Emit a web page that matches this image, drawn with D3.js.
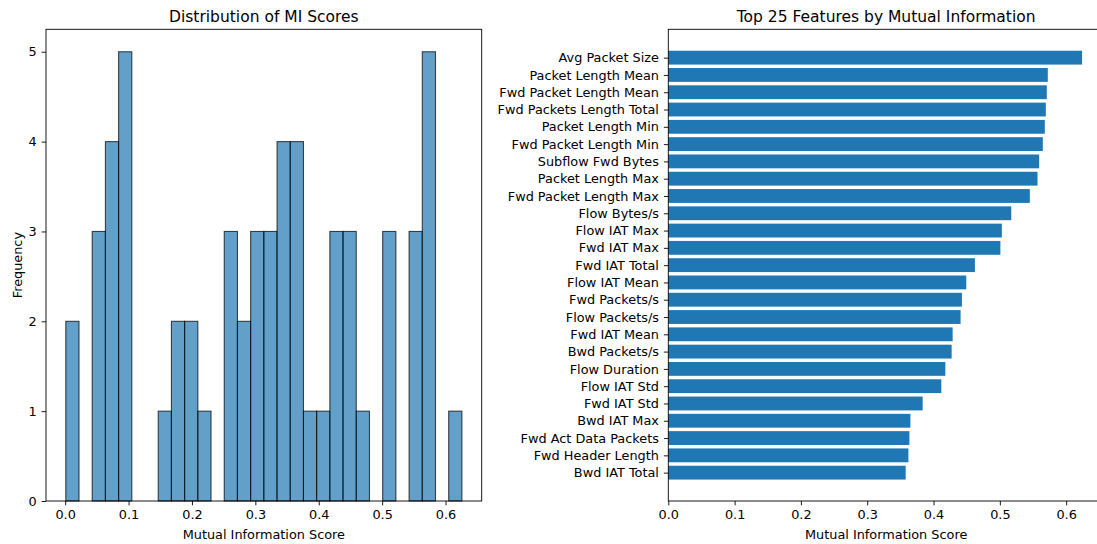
<!DOCTYPE html>
<html><head><meta charset="utf-8">
<script src="https://cdn.jsdelivr.net/npm/d3@7"></script>
<style>
html,body{margin:0;padding:0;background:#fff;}
svg{display:block;font-family:"DejaVu Sans",sans-serif;}
</style></head>
<body>
<svg id="chart" width="1097" height="544"></svg>
<script>
// ---- Data ----
// Histogram (30 bins) of MI scores
const histBinStart = 0.001;
const histBinEnd = 0.6258;
const histCounts = [2,0,3,4,5,0,0,1,2,2,1,0,3,2,3,3,4,4,1,1,3,3,1,0,3,0,3,5,0,1];
const histYTicks = [0,1,2,3,4,5];
const histXTicks = [0.0,0.1,0.2,0.3,0.4,0.5,0.6];

// Top 25 features
const features = [
  "Avg Packet Size","Packet Length Mean","Fwd Packet Length Mean","Fwd Packets Length Total",
  "Packet Length Min","Fwd Packet Length Min","Subflow Fwd Bytes","Packet Length Max",
  "Fwd Packet Length Max","Flow Bytes/s","Flow IAT Max","Fwd IAT Max","Fwd IAT Total",
  "Flow IAT Mean","Fwd Packets/s","Flow Packets/s","Fwd IAT Mean","Bwd Packets/s",
  "Flow Duration","Flow IAT Std","Fwd IAT Std","Bwd IAT Max","Fwd Act Data Packets",
  "Fwd Header Length","Bwd IAT Total"
];
const miScores = [
  0.6240,0.5723,0.5708,0.5693,0.5678,0.5648,0.5593,0.5568,0.5452,0.5172,0.5030,0.5008,0.4624,
  0.4494,0.4428,0.4408,0.4288,0.4273,0.4178,0.4117,0.3836,0.3651,0.3636,0.3621,0.3580
];
const barXTicks = [0.0,0.1,0.2,0.3,0.4,0.5,0.6];

// ---- Drawing ----
const svg = d3.select("#chart");
const FS = 12.85, TFS = 15.5, TICK = 4.4;
const BLUE = "#1f77b4";

function styleAxis(g){
  g.select(".domain").remove();
  g.selectAll(".tick line").attr("stroke","#000").attr("stroke-width",0.9);
  g.selectAll(".tick text").attr("fill","#000").style("font-size",FS+"px").style("font-family","DejaVu Sans");
}

// Left: histogram
{
  const L = 46, R = 481.7, T = 29.3, B = 501;
  const w = histBinEnd - histBinStart;
  const x = d3.scaleLinear().domain([histBinStart - 0.05*w, histBinEnd + 0.05*w]).range([L,R]);
  const y = d3.scaleLinear().domain([0, 5.25]).range([B,T]);
  const nb = histCounts.length;
  const bw = w / nb;
  const bins = histCounts.map((c,i)=>({x0: histBinStart + i*bw, x1: histBinStart + (i+1)*bw, c}));
  const g = svg.append("g");
  g.selectAll("rect.bar").data(bins.filter(d=>d.c>0)).join("rect")
    .attr("class","bar")
    .attr("x",d=>x(d.x0)).attr("width",d=>x(d.x1)-x(d.x0))
    .attr("y",d=>y(d.c)).attr("height",d=>y(0)-y(d.c))
    .attr("fill",BLUE).attr("fill-opacity",0.7)
    .attr("stroke","#000").attr("stroke-opacity",0.7).attr("stroke-width",1.1);
  g.append("rect").attr("x",L).attr("y",T).attr("width",R-L).attr("height",B-T)
    .attr("fill","none").attr("stroke","#000").attr("stroke-width",0.9);
  g.append("g").attr("transform",`translate(0,${B})`)
    .call(d3.axisBottom(x).tickValues(histXTicks).tickFormat(d3.format(".1f")).tickSize(TICK).tickPadding(4))
    .call(styleAxis);
  g.append("g").attr("transform",`translate(${L},0)`)
    .call(d3.axisLeft(y).tickValues(histYTicks).tickFormat(d3.format("d")).tickSize(TICK).tickPadding(5))
    .call(styleAxis);
  g.append("text").attr("x",(L+R)/2).attr("y",21.5).attr("text-anchor","middle")
    .style("font-size",TFS+"px").text("Distribution of MI Scores");
  g.append("text").attr("x",(L+R)/2).attr("y",539).attr("text-anchor","middle")
    .style("font-size",FS+"px").text("Mutual Information Score");
  g.append("text").attr("transform",`translate(21.5,${(T+B)/2}) rotate(-90)`).attr("text-anchor","middle")
    .style("font-size",FS+"px").text("Frequency");
}

// Right: horizontal bars
{
  const L = 668.3, R = 1104, T = 29.3, B = 501;
  const n = features.length;
  const x = d3.scaleLinear().domain([0, d3.max(miScores)*1.053]).range([L,R]);
  const pos = d3.scaleLinear().domain([-1.64, (n-1)+1.64]).range([B,T]);
  const data = features.map((f,i)=>({f, v: miScores[i], p: (n-1)-i}));
  const g = svg.append("g");
  g.selectAll("rect.hbar").data(data).join("rect")
    .attr("class","hbar")
    .attr("x",x(0)).attr("width",d=>x(d.v)-x(0))
    .attr("y",d=>pos(d.p+0.4)).attr("height",d=>pos(d.p-0.4)-pos(d.p+0.4))
    .attr("fill",BLUE);
  g.append("rect").attr("x",L).attr("y",T).attr("width",R-L).attr("height",B-T)
    .attr("fill","none").attr("stroke","#000").attr("stroke-width",0.9);
  g.append("g").attr("transform",`translate(0,${B})`)
    .call(d3.axisBottom(x).tickValues(barXTicks).tickFormat(d3.format(".1f")).tickSize(TICK).tickPadding(4))
    .call(styleAxis);
  const yAxisScale = d3.scaleOrdinal().domain(features).range(data.map(d=>pos(d.p)));
  g.append("g").attr("transform",`translate(${L},0)`)
    .call(d3.axisLeft(yAxisScale).tickSize(TICK).tickPadding(5))
    .call(styleAxis);
  g.append("text").attr("x",(L+R)/2).attr("y",21.5).attr("text-anchor","middle")
    .style("font-size",TFS+"px").text("Top 25 Features by Mutual Information");
  g.append("text").attr("x",(L+R)/2).attr("y",539).attr("text-anchor","middle")
    .style("font-size",FS+"px").text("Mutual Information Score");
}
</script>
</body></html>
